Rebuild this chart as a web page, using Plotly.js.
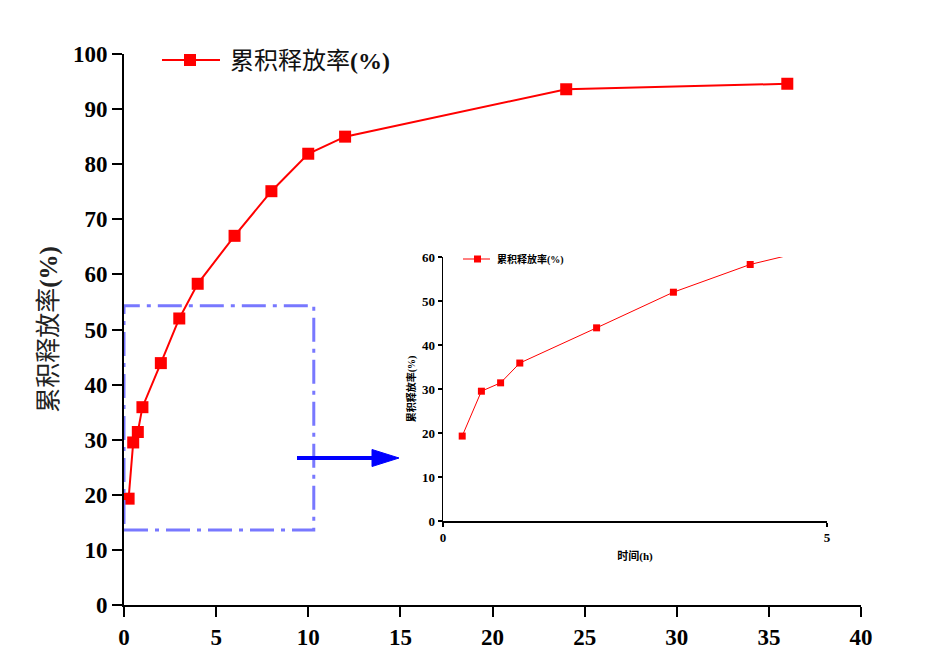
<!DOCTYPE html>
<html>
<head>
<meta charset="utf-8">
<script src="https://cdn.plot.ly/plotly-3.0.1.min.js"></script>
<style>html,body{margin:0;padding:0;background:#fff;}#chart{width:933px;height:652px;}</style>
</head>
<body>
<div id="chart"></div>
<script>
// ---- data ----
const timeH = [0.25, 0.5, 0.75, 1, 2, 3, 4, 6, 8, 10, 12, 24, 36];
const releasePct = [19.3, 29.5, 31.4, 35.9, 43.9, 52.0, 58.3, 67.0, 75.1, 81.9, 85.0, 93.6, 94.6];
const seriesNameCJK = "累积释放率";
const unitLabel = "(%)";
const insetXTitle = "时间(h)";
const mainXTicks = [0, 5, 10, 15, 20, 25, 30, 35, 40];
const mainYTicks = [0, 10, 20, 30, 40, 50, 60, 70, 80, 90, 100];
const insetXTicks = [0, 5];
const insetYTicks = [0, 10, 20, 30, 40, 50, 60];
// zoom box (main-axis data units)
const zoomBoxX = [0, 10.3];
const zoomBoxY = [13.6, 54.3];

// ---- layout helpers (pixel -> paper) ----
const W = 933, H = 652, L = 124, R = 861, T = 54, B = 605;
const px = v => (v - L) / (R - L);
const py = v => (B - v) / (B - T);

const RED = "#ff0000";
const serif = "Liberation Serif, Times New Roman, Noto Sans CJK SC, serif";
const seriesLabel = seriesNameCJK + "<b>" + unitLabel + "</b>";

const traces = [
  {x: timeH, y: releasePct, type: "scatter", mode: "lines+markers", name: seriesNameCJK + unitLabel,
   line: {color: RED, width: 2}, marker: {symbol: "square", size: 12, color: RED},
   xaxis: "x", yaxis: "y", showlegend: false, cliponaxis: true},
  {x: timeH, y: releasePct, type: "scatter", mode: "lines+markers", name: seriesNameCJK + unitLabel,
   line: {color: RED, width: 1}, marker: {symbol: "square", size: 7, color: RED},
   xaxis: "x2", yaxis: "y2", showlegend: false, cliponaxis: true}
];

const axBase = {showgrid: false, zeroline: false, showline: true, linecolor: "#000",
  ticks: "outside", tickcolor: "#000", fixedrange: true};

const layout = {
  width: W, height: H,
  margin: {l: L, r: W - R, t: T, b: H - B},
  paper_bgcolor: "#fff", plot_bgcolor: "rgba(0,0,0,0)",
  showlegend: false,
  xaxis: Object.assign({}, axBase, {range: [0, 40], tickvals: mainXTicks, linewidth: 2, tickwidth: 2, ticklen: 10,
    tickfont: {family: serif, size: 23, color: "#000", weight: "bold"}, domain: [0, 1], anchor: "y"}),
  yaxis: Object.assign({}, axBase, {range: [0, 100], tickvals: mainYTicks, linewidth: 2, tickwidth: 2, ticklen: 10,
    tickfont: {family: serif, size: 23, color: "#000", weight: "bold"}, domain: [0, 1], anchor: "x",
    title: {text: seriesLabel, standoff: 8, font: {family: serif, size: 25, color: "#222"}}}),
  xaxis2: Object.assign({}, axBase, {range: [0, 5], tickvals: insetXTicks, linewidth: 1.5, tickwidth: 1.5, ticklen: 4,
    tickfont: {family: serif, size: 13, color: "#000", weight: "bold"},
    domain: [px(443), px(827)], anchor: "y2",
    title: {text: insetXTitle, standoff: 8, font: {family: serif, size: 11, color: "#000", weight: "bold"}}}),
  yaxis2: Object.assign({}, axBase, {range: [0, 60], tickvals: insetYTicks, linewidth: 1.5, tickwidth: 1.5, ticklen: 4,
    tickfont: {family: serif, size: 13, color: "#000", weight: "bold"},
    domain: [py(521), py(257)], anchor: "x2",
    title: {text: seriesNameCJK + unitLabel, standoff: 4, font: {family: serif, size: 10, color: "#000", weight: "bold"}}}),
  shapes: [
    // zoom box
    {type: "rect", xref: "x", yref: "y", x0: zoomBoxX[0], x1: zoomBoxX[1], y0: zoomBoxY[0], y1: zoomBoxY[1],
     line: {color: "rgb(120,120,255)", width: 3, dash: "24px,7px,4px,7px"}, layer: "above"},
    // arrow shaft
    {type: "line", xref: "paper", yref: "paper", x0: px(297), x1: px(375), y0: py(458), y1: py(458),
     line: {color: "#0000ff", width: 4}},
    // arrow head
    {type: "path", xref: "paper", yref: "paper",
     path: `M ${px(372)},${py(449.5)} L ${px(399)},${py(458)} L ${px(372)},${py(466.5)} Z`,
     fillcolor: "#0000ff", line: {color: "#0000ff", width: 1}},
    // main legend symbol
    {type: "line", xref: "paper", yref: "paper", x0: px(162), x1: px(220), y0: py(60), y1: py(60),
     line: {color: RED, width: 2}},
    {type: "rect", xref: "paper", yref: "paper", x0: px(184), x1: px(196), y0: py(66), y1: py(54),
     fillcolor: RED, line: {width: 0}},
    // inset legend symbol
    {type: "line", xref: "paper", yref: "paper", x0: px(463), x1: px(490), y0: py(259), y1: py(259),
     line: {color: RED, width: 1}},
    {type: "rect", xref: "paper", yref: "paper", x0: px(474), x1: px(481), y0: py(262.5), y1: py(255.5),
     fillcolor: RED, line: {width: 0}}
  ],
  annotations: [
    {xref: "paper", yref: "paper", x: px(228), y: py(61), xanchor: "left", yanchor: "middle", showarrow: false,
     text: seriesLabel, font: {family: serif, size: 24, color: "#111"}},
    {xref: "paper", yref: "paper", x: px(495), y: py(259), xanchor: "left", yanchor: "middle", showarrow: false,
     text: "<b>" + seriesNameCJK + unitLabel + "</b>", font: {family: serif, size: 10, color: "#000"}}
  ]
};

Plotly.newPlot("chart", traces, layout, {displayModeBar: false, staticPlot: true});
</script>
</body>
</html>
